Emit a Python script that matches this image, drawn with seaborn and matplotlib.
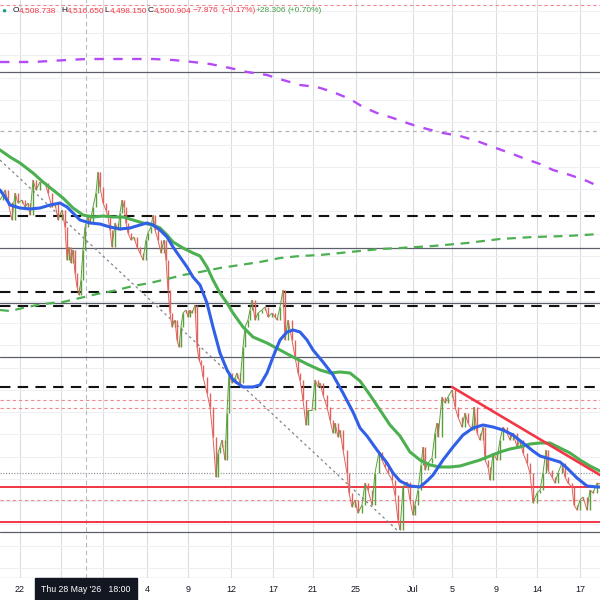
import numpy as np
import pandas as pd
import matplotlib
matplotlib.use("Agg")
import matplotlib.pyplot as plt
from matplotlib.collections import LineCollection
import seaborn as sns

# -----------------------------
# CONFIG
# -----------------------------
sns.set_theme(style="white")
plt.rcParams["font.family"] = ["Liberation Sans", "DejaVu Sans"]

UP = "#5c9e3e"
DOWN = "#e0625c"
BLUE = "#3160e8"
GREEN = "#4caf50"
PURPLE = "#b44cf5"
RED = "#f23645"
INK = "#131722"

# -----------------------------
# DATA (x = bar position, y = price)
# -----------------------------
bar_x = [0, 3, 5, 8, 12, 15, 18, 22, 25, 28, 30, 33, 36, 40, 45, 48, 52, 55, 58, 62,
         65, 67, 69, 71, 73, 75, 77, 79, 81, 83, 85, 88, 90, 93, 96, 98, 100, 103, 106, 108,
         110, 112, 115, 118, 120, 122, 124, 126, 128, 131, 134, 137, 140, 143, 146, 148, 151, 153, 155, 158,
         161, 164, 166, 168, 170, 172, 175, 177, 179, 181, 183, 186, 188, 190, 192, 195, 197, 199, 201, 203,
         207, 210, 213, 216, 218, 220, 222, 225, 227, 229, 232, 235, 237, 240, 243, 245, 248, 250, 252, 255,
         258, 262, 265, 268, 272, 275, 277, 280, 283, 285, 288, 292, 295, 298, 300, 303, 306, 308, 312, 315,
         318, 320, 323, 327, 330, 333, 335, 338, 340, 343, 347, 349, 352, 355, 358, 362, 365, 368, 372, 375,
         379, 382, 385, 388, 392, 395, 398, 400, 403, 407, 410, 413, 415, 418, 421, 423, 425, 428, 432, 435,
         437, 438, 442, 445, 448, 452, 455, 458, 462, 465, 468, 472, 474, 477, 480, 483, 485, 488, 490, 493,
         497, 500, 503, 507, 510, 513, 517, 520, 523, 527, 530, 533, 537, 540, 543, 546, 548, 552, 555, 558,
         562, 565, 568, 572, 574, 577, 580, 583, 587, 590, 593, 597, 600]
close = [4785, 4790, 4795, 4783, 4765, 4792, 4782, 4785, 4778, 4782, 4770, 4805, 4795, 4803, 4802, 4792, 4778, 4782, 4765, 4775,
         4758, 4725, 4738, 4722, 4735, 4712, 4698, 4690, 4705, 4735, 4758, 4768, 4762, 4778, 4792, 4813, 4798, 4782, 4775, 4768,
         4755, 4738, 4762, 4755, 4772, 4785, 4778, 4762, 4752, 4745, 4748, 4738, 4732, 4725, 4745, 4752, 4758, 4770, 4755, 4745,
         4732, 4745, 4725, 4695, 4672, 4658, 4665, 4645, 4638, 4658, 4672, 4675, 4668, 4675, 4672, 4680, 4638, 4625, 4620, 4608,
         4592, 4578, 4548, 4508, 4532, 4538, 4545, 4525, 4572, 4612, 4602, 4607, 4612, 4602, 4638, 4658, 4665, 4675, 4685, 4665,
         4672, 4675, 4678, 4668, 4672, 4668, 4665, 4678, 4695, 4645, 4665, 4645, 4628, 4612, 4605, 4585, 4560, 4575, 4575, 4605,
         4598, 4602, 4590, 4578, 4565, 4552, 4562, 4548, 4555, 4535, 4512, 4492, 4478, 4485, 4472, 4480, 4502, 4495, 4480, 4512,
         4533, 4525, 4518, 4512, 4505, 4490, 4465, 4455, 4498, 4503, 4485, 4470, 4480, 4495, 4520, 4538, 4515, 4522, 4527, 4552,
         4562, 4548, 4588, 4582, 4588, 4595, 4578, 4568, 4558, 4572, 4562, 4555, 4578, 4552, 4545, 4558, 4525, 4518, 4505, 4532,
         4525, 4545, 4558, 4552, 4545, 4552, 4538, 4545, 4532, 4522, 4512, 4482, 4492, 4495, 4512, 4535, 4515, 4508, 4502, 4512,
         4522, 4508, 4502, 4498, 4480, 4475, 4485, 4488, 4475, 4495, 4492, 4502, 4501]

fast_x = [0, 5, 10, 20, 30, 40, 50, 60, 67, 73, 80, 90, 100, 110, 120, 130, 140, 147, 153, 160,
          167, 173, 180, 187, 193, 200, 207, 213, 220, 227, 233, 243, 253, 260, 267, 273, 280, 287, 293, 300,
          307, 313, 323, 333, 343, 353, 360, 367, 377, 387, 393, 400, 410, 420, 427, 433, 443, 453, 463, 473,
          483, 493, 503, 513, 523, 533, 540, 550, 560, 567, 577, 587, 597, 600]
fast_ma = [4795, 4788, 4780, 4777, 4776, 4777, 4780, 4782, 4778, 4772, 4765, 4762, 4761, 4758, 4756, 4757, 4760, 4762, 4760, 4755,
           4748, 4738, 4728, 4718, 4708, 4700, 4682, 4658, 4632, 4615, 4605, 4598, 4598, 4600, 4612, 4628, 4645, 4653, 4655, 4653,
           4645, 4635, 4623, 4610, 4592, 4573, 4557, 4549, 4535, 4522, 4512, 4504, 4499, 4498, 4504, 4510, 4525, 4538, 4550, 4557,
           4560, 4558, 4555, 4550, 4542, 4534, 4529, 4526, 4523, 4517, 4507, 4499, 4498, 4498]

slow_x = [0, 10, 20, 33, 43, 53, 63, 73, 83, 93, 103, 113, 123, 133, 143, 153, 160, 167, 173, 183,
          193, 200, 207, 213, 220, 227, 233, 243, 253, 267, 280, 293, 307, 320, 330, 340, 350, 360, 370, 380,
          390, 400, 410, 420, 430, 440, 450, 460, 470, 480, 490, 500, 510, 520, 530, 540, 550, 560, 570, 580,
          590, 600]
slow_ma = [4835, 4828, 4822, 4812, 4803, 4795, 4787, 4777, 4770, 4768, 4769, 4768, 4768, 4765, 4762, 4760, 4757, 4750, 4743, 4737,
           4732, 4729, 4718, 4705, 4692, 4682, 4672, 4658, 4648, 4642, 4635, 4628, 4621, 4615, 4612, 4613, 4612, 4604, 4590, 4575,
           4560, 4549, 4533, 4525, 4520, 4518, 4518, 4519, 4522, 4525, 4529, 4533, 4536, 4538, 4541, 4542, 4542, 4537, 4532, 4525,
           4519, 4514]

long_x = [0, 10, 27, 43, 63, 80, 97, 113, 133, 150, 167, 183, 200, 220, 240, 260, 280, 300, 320, 340,
          360, 380, 400, 433, 467, 500, 533, 567, 600]
long_ma = [4675, 4674, 4678, 4681, 4683, 4687, 4691, 4694, 4699, 4702, 4706, 4710, 4713, 4717, 4720, 4723, 4727, 4729, 4730, 4732,
           4734, 4736, 4737, 4739, 4742, 4746, 4748, 4749, 4751]

htf_x = [0, 33, 67, 87, 133, 153, 173, 193, 210, 230, 247, 267, 283, 300, 317, 333, 350, 363, 377, 393,
         410, 427, 443, 460, 477, 493, 510, 523, 540, 553, 570, 587, 600]
htf_ma = [4923, 4923, 4925, 4926, 4926, 4926, 4925, 4923, 4921, 4917, 4913, 4910, 4905, 4900, 4898, 4893, 4886, 4878, 4872, 4867,
          4861, 4856, 4852, 4849, 4844, 4838, 4832, 4827, 4821, 4815, 4810, 4804, 4798]

gray_levels = [4913, 4737, 4682, 4628, 4453]
black_dash_levels = [4769, 4693, 4679, 4598]
gray_dash_levels = [4854]
red_dash_levels = [4980, 4585, 4577, 4485]
dotted_levels = [4512]
red_levels = [4498, 4463]

trend_x = [452, 600]
trend_y = [4598, 4510]
diag_x = [0, 398]
diag_y = [4825, 4454]

tick_pos = [20, 61, 103, 147, 188, 231, 273, 313, 356, 413, 452, 496, 537, 580]
tick_lab = ["22", "", "", "4", "9", "12", "17", "21", "25", "Jul", "5", "9", "14", "17"]
cursor_x = 86
cursor_lab = "Thu 28 May '26   18:00"

# -----------------------------
# PLOT
# -----------------------------
fig = plt.figure(figsize=(6, 6), dpi=100)
ax = fig.add_axes([0, 22 / 600, 1, 578 / 600])
ax.set_xlim(0, 600)
ax.set_ylim(4407, 4985)

# grid
for p in tick_pos:
    ax.axvline(p, color="#dcdde2", lw=0.8, zorder=0)
for g in np.arange(4974.3, 4400, -22.3):
    ax.axhline(g, color="#eeeff2", lw=0.8, zorder=0)
ax.axvline(cursor_x, color="#b8bac2", lw=0.8, ls=(0, (4, 3)), zorder=0)

# horizontal levels
for lv in gray_levels:
    ax.axhline(lv, color="#5d606b", lw=0.9, zorder=1)
for lv in black_dash_levels:
    ax.axhline(lv, color="#111111", lw=1.5, ls=(0, (5, 3.5)), zorder=1)
for lv in gray_dash_levels:
    ax.axhline(lv, color="#b0b3bb", lw=0.9, ls=(0, (3, 3)), zorder=1)
for lv in red_dash_levels:
    ax.axhline(lv, color="#f08a90", lw=0.8, ls=(0, (3, 2.5)), zorder=1)
for lv in dotted_levels:
    ax.axhline(lv, color="#9a9ca3", lw=0.9, ls=(0, (1, 1.2)), zorder=1)
for lv in red_levels:
    ax.axhline(lv, color=RED, lw=1.4, zorder=2)

# diagonal helper line
ax.plot(diag_x, diag_y, color="#808389", lw=0.9, ls=(0, (2, 2.5)), zorder=2)

# candles (open = previous close)
df = pd.DataFrame({"x": bar_x, "close": close})
df["open"] = df["close"].shift(1).fillna(df["close"])
df["prev_x"] = df["x"].shift(1).fillna(df["x"])
df["color"] = np.where(df["close"] >= df["open"], UP, DOWN)
ax.vlines(df["x"], df["open"], df["close"], colors=df["color"], lw=1.0, zorder=3)
segs = [[(px, o), (x, c)] for px, o, x, c in zip(df["prev_x"], df["open"], df["x"], df["close"])]
ax.add_collection(LineCollection(segs, colors=df["color"], lw=0.7, zorder=3))

# moving averages
sns.lineplot(x=htf_x, y=htf_ma, ax=ax, color=PURPLE, lw=1.7, linestyle=(0, (4, 4)),
             estimator=None, sort=False, zorder=4)
sns.lineplot(x=long_x, y=long_ma, ax=ax, color=GREEN, lw=1.6, linestyle=(0, (4, 3)),
             estimator=None, sort=False, zorder=4)
sns.lineplot(x=slow_x, y=slow_ma, ax=ax, color=GREEN, lw=2.2, estimator=None, sort=False, zorder=5)
sns.lineplot(x=fast_x, y=fast_ma, ax=ax, color=BLUE, lw=2.2, estimator=None, sort=False, zorder=5)
ax.plot(trend_x, trend_y, color=RED, lw=1.9, zorder=6)

# axes styling
for s in ax.spines.values():
    s.set_visible(False)
ax.axhline(4407, color="#d6d7dc", lw=1.0, zorder=7)
ax.set_yticks([])
ax.set_xticks(tick_pos)
ax.set_xticklabels(tick_lab, fontsize=6.5, color=INK)
ax.tick_params(axis="x", length=0, pad=5)
ax.set_xlabel("")
ax.set_ylabel("")

# crosshair date label
ax.text(cursor_x, -11 / 578, cursor_lab, transform=ax.get_xaxis_transform(), ha="center", va="center",
        fontsize=6.3, color="white", zorder=10,
        bbox=dict(boxstyle="square,pad=0.7", fc=INK, ec=INK))

# OHLC header
header = [
    (13, "O", INK), (19, "4,508.738", RED),
    (61, "H", INK), (67, "4,516.650", RED),
    (104, "L", INK), (110, "4,498.150", RED),
    (148, "C", INK), (154, "4,500.904", RED),
    (193, "\u22127.876", RED), (221, "(\u22120.17%)", RED),
    (256, "+28.306", "#43a047"), (288, "(+0.70%)", "#43a047"),
]
for hx, txt, col in header:
    fig.text(hx / 600, 1 - 11 / 600, txt, fontsize=6.0, color=col, ha="left", va="center")
fig.text(4 / 600, 1 - 11 / 600, "\u25cf", fontsize=6, color="#1e9e8a", ha="center", va="center")

fig.savefig("out.png", dpi=100, facecolor="white")
plt.close(fig)
